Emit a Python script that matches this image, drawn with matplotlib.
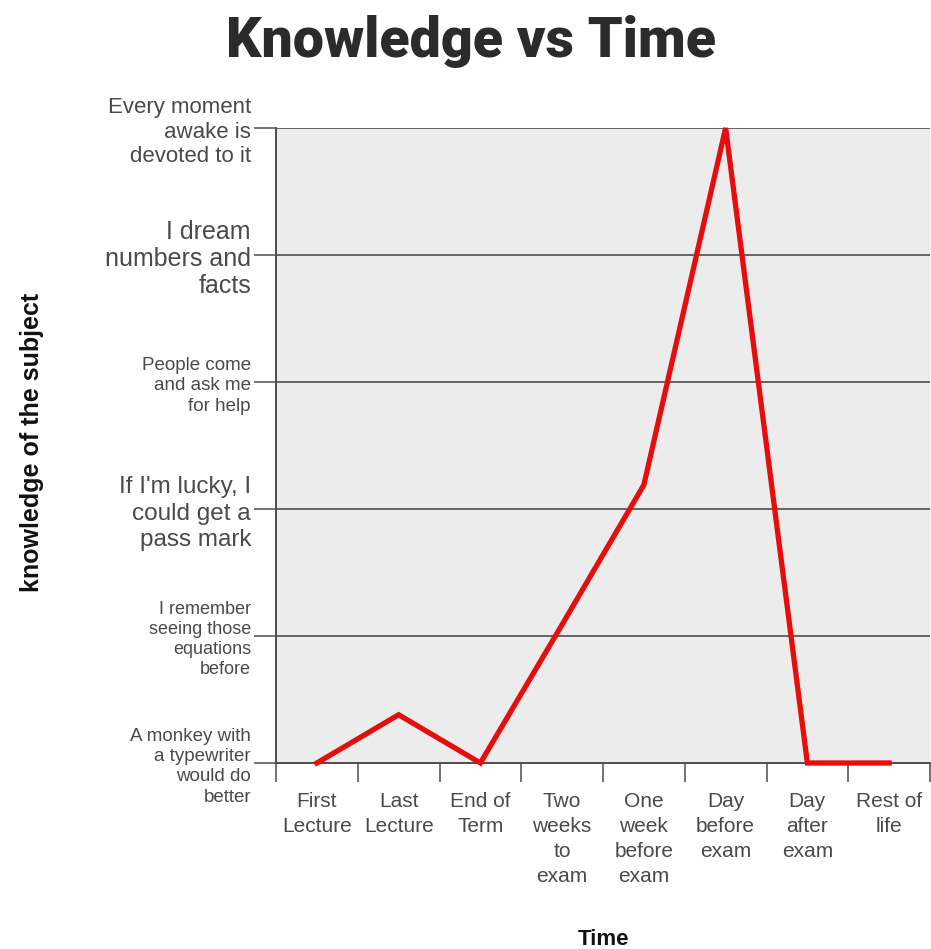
import numpy as np
import matplotlib
matplotlib.use("Agg")
import matplotlib.pyplot as plt

# data
stages = [
    "First\nLecture",
    "Last\nLecture",
    "End of\nTerm",
    "Two\nweeks\nto\nexam",
    "One\nweek\nbefore\nexam",
    "Day\nbefore\nexam",
    "Day\nafter\nexam",
    "Rest of\nlife",
]
knowledge = [0, 0.38, 0, 1.09, 2.19, 5, 0, 0]

levels = [
    "A monkey with\na typewriter\nwould do\nbetter",
    "I remember\nseeing those\nequations\nbefore",
    "If I'm lucky, I\ncould get a\npass mark",
    "People come\nand ask me\nfor help",
    "I dream\nnumbers and\nfacts",
    "Every moment\nawake is\ndevoted to it",
]

plt.rcParams["font.family"] = ["Liberation Sans", "DejaVu Sans"]
txt_col = "#4a4a4a"
line_col = "#4d4d4d"

fig = plt.figure(figsize=(9.31, 9.49), dpi=100)
ax = fig.add_axes([276 / 931, 186 / 949, 654 / 931, 635 / 949])
ax.set_facecolor("#ececec")

x = np.arange(len(stages))
ax.plot(x, knowledge, color="#e60d0d", lw=3.8, solid_joinstyle="miter",
        clip_on=False, zorder=5)

ax.set_xlim(-0.5, len(stages) - 0.5)
ax.set_ylim(0, len(levels) - 1)

# horizontal level lines
for yv in range(1, len(levels)):
    ax.axhline(yv, color=line_col, lw=1.2, zorder=2)

# y ticks with the level descriptions
ax.set_yticks(range(len(levels)))
ax.set_yticklabels(levels)
label_sizes = [13.5, 13, 17.5, 13.5, 18, 16]
label_spacing = [1.25, 1.22, 1.24, 1.28, 1.16, 1.22]
for lab, fs, ls in zip(ax.get_yticklabels(), label_sizes, label_spacing):
    lab.set_fontsize(fs)
    lab.set_linespacing(ls)
    lab.set_color(txt_col)
ax.tick_params(axis="y", length=16, width=1.1, color=line_col, pad=2)

# x ticks: labels centred, tick marks at category edges
ax.set_xticks(x)
ax.set_xticklabels(stages, fontsize=15, color=txt_col, linespacing=1.4)
ax.set_xticks(np.arange(-0.5, len(stages)), minor=True)
ax.tick_params(axis="x", which="major", length=0, pad=21)
ax.tick_params(axis="x", which="minor", length=14, width=1.1, color=line_col)

for s in ["right", "top"]:
    ax.spines[s].set_visible(False)
ax.spines["left"].set_color(line_col)
ax.spines["left"].set_linewidth(1.4)
ax.spines["bottom"].set_color(line_col)
ax.spines["bottom"].set_linewidth(1.4)

ax.set_xlabel("Time", fontsize=16, fontweight="bold", color="#111111", labelpad=31)
fig.text(32 / 931, 1 - 442 / 949, "knowledge of the subject", rotation=90,
         fontsize=18, fontweight="bold", color="#111111",
         ha="center", va="center")

fig.text(471 / 931, 1 - 42 / 949, "Knowledge vs Time",
         family=["Roboto", "DejaVu Sans"], fontweight="black",
         fontsize=40, color="#2b2b2b", ha="center", va="center")

fig.savefig("out.png", dpi=100, facecolor="white")
